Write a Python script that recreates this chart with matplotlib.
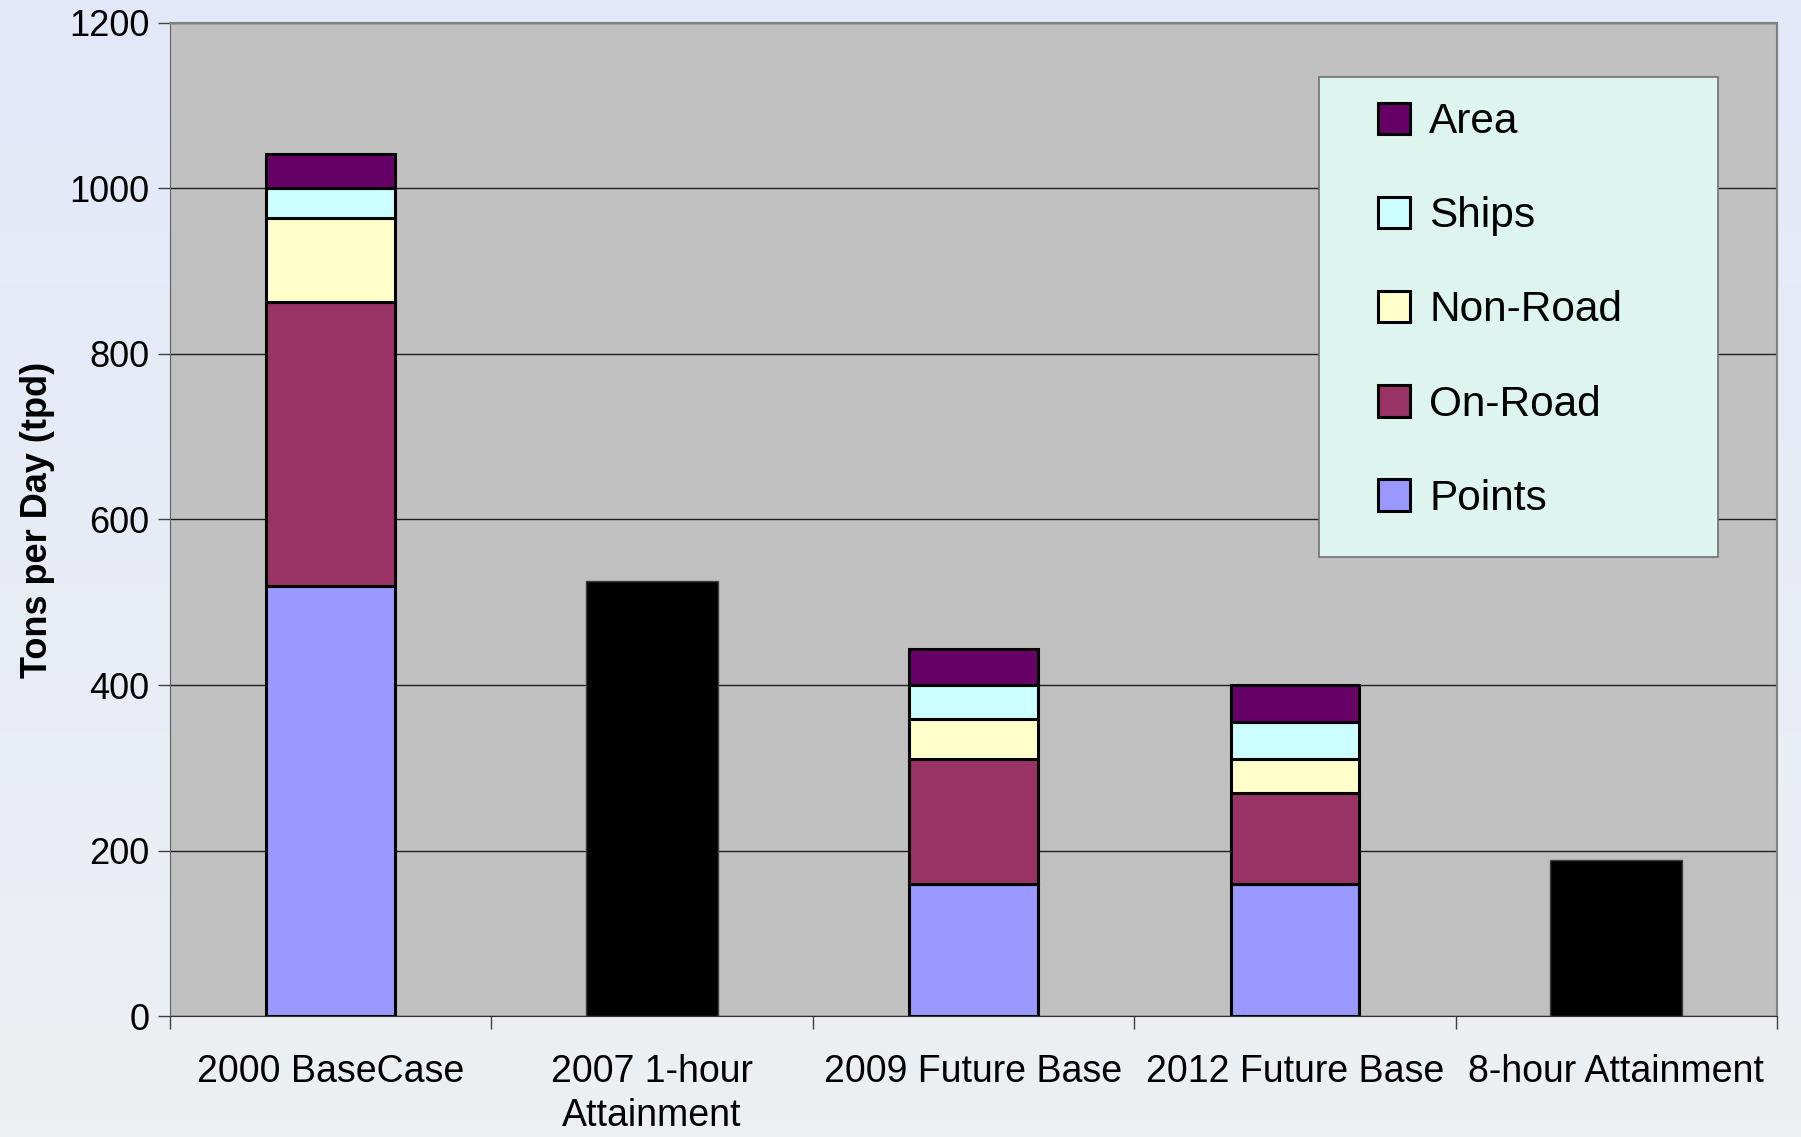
import numpy as np
import matplotlib
matplotlib.use("Agg")
import matplotlib.pyplot as plt
from matplotlib.patches import Rectangle

plt.rcParams['font.family'] = ['Liberation Sans', 'DejaVu Sans']

# data (tons per day)
categories = ['2000 BaseCase', '2007 1-hour\nAttainment', '2009 Future Base',
              '2012 Future Base', '8-hour Attainment']
sources = ['Points', 'On-Road', 'Non-Road', 'Ships', 'Area']
points = [520, 0, 160, 160, 0]
on_road = [343, 0, 151, 110, 0]
non_road = [101, 0, 48, 41, 0]
ships = [36, 0, 41, 44, 0]
area = [42, 0, 44, 45, 0]
targets = [0, 526, 0, 0, 189]   # black attainment bars
colors = ['#9999FF', '#993366', '#FFFFCC', '#CCFFFF', '#660066']
yticks = [0, 200, 400, 600, 800, 1000, 1200]

fig = plt.figure(figsize=(18.01, 11.37), dpi=100)

# soft sky-like background
bg = fig.add_axes([0, 0, 1, 1], zorder=-10)
grad = np.linspace(0, 1, 256).reshape(-1, 1)
top = np.array([0.89, 0.91, 0.98])
bot = np.array([0.93, 0.94, 0.95])
img = top[None, None, :] * (1 - grad[:, :, None]) + bot[None, None, :] * grad[:, :, None]
bg.imshow(img, aspect='auto', extent=[0, 1, 0, 1])
bg.axis('off')

ax = fig.add_axes([0.0944, 0.1064, 0.8923, 0.8734])
ax.set_facecolor('#C0C0C0')

x = np.arange(len(categories))
w = 0.4
bottom = np.zeros(len(categories))
series = [points, on_road, non_road, ships, area]
handles = []
for vals, name, c in zip(series, sources, colors):
    vals = np.array(vals, dtype=float)
    mask = vals > 0
    h = ax.bar(x[mask], vals[mask], w, bottom=bottom[mask], color=c,
               edgecolor='black', linewidth=2.2, label=name, zorder=3)
    handles.append(h)
    bottom += vals
t = np.array(targets, dtype=float)
tm = t > 0
ax.bar(x[tm], t[tm], 0.41, color='black', edgecolor='#404040', linewidth=1, zorder=3)

ax.set_xlim(-0.5, len(categories) - 0.5)
ax.set_ylim(0, 1200)
ax.set_yticks(yticks)
ax.yaxis.grid(True, color='#202020', linewidth=1)
ax.set_axisbelow(True)
ax.tick_params(axis='y', labelsize=26, length=9, width=1, color='#404040', pad=6)
ax.set_xticks(x)
ax.set_xticklabels(categories, fontsize=27, linespacing=1.3)
ax.set_xticks(np.arange(-0.5, len(categories)), minor=True)
ax.tick_params(axis='x', which='major', length=0, pad=27)
ax.tick_params(axis='x', which='minor', length=9, width=1, color='#404040')
for s in ['top', 'right']:
    ax.spines[s].set_color('#808080')
    ax.spines[s].set_linewidth(1.5)
ax.spines['left'].set_color('#606060')
ax.spines['bottom'].set_color('#303030')

ax.set_ylabel('Tons per Day (tpd)', fontsize=26, fontweight='bold', labelpad=10)

# legend box
fig.patches.append(Rectangle((1319 / 1801, 1 - 557 / 1137), 399 / 1801, 480 / 1137,
                             transform=fig.transFigure, facecolor='#DDF5EE',
                             edgecolor='#707070', linewidth=1.2, zorder=5))
leg = fig.legend(handles[::-1], sources[::-1], loc='upper left',
                 bbox_to_anchor=(1378 / 1801, 1 - 102 / 1137), frameon=False,
                 fontsize=30.5, borderpad=0, borderaxespad=0,
                 handlelength=0.76, handleheight=0.76, handletextpad=0.45,
                 labelspacing=1.28)
leg.set_zorder(6)

fig.savefig('out.png', dpi=100)
